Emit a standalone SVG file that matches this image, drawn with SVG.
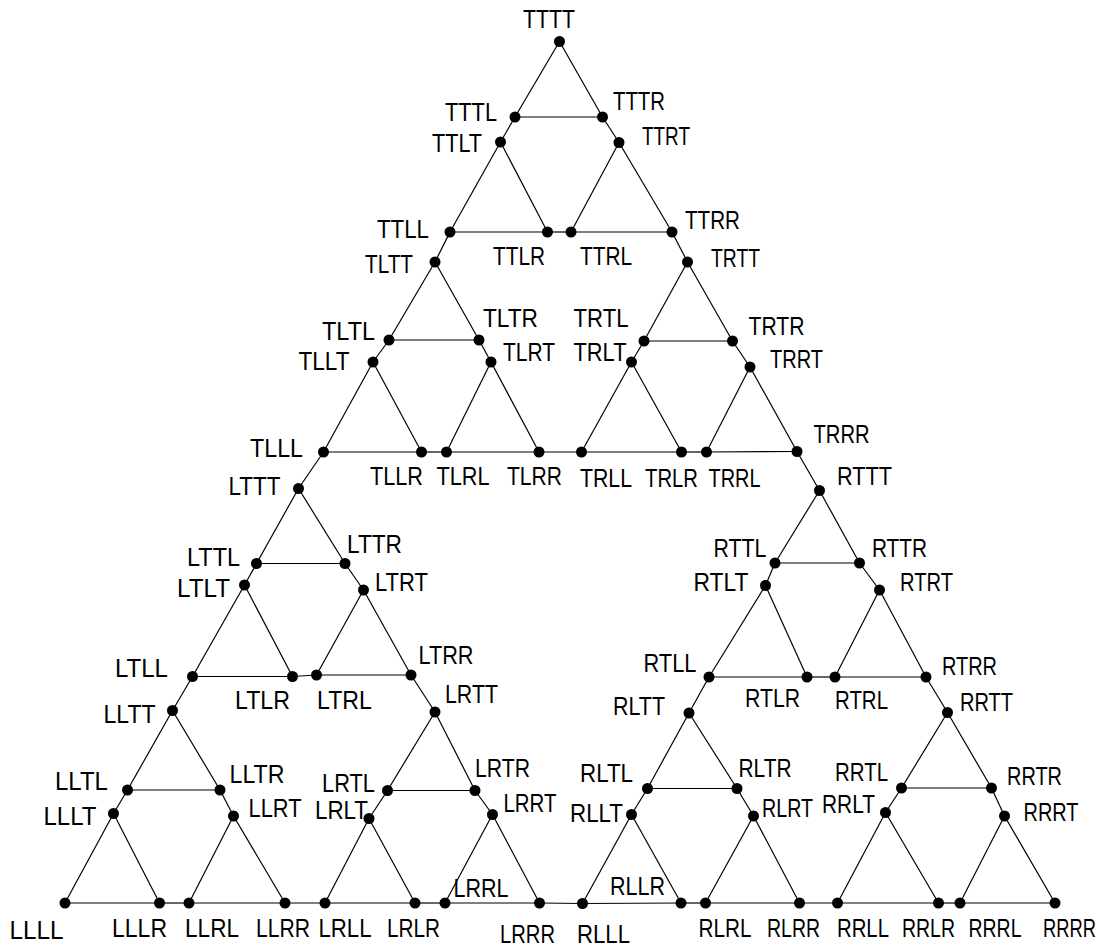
<svg xmlns="http://www.w3.org/2000/svg" width="1106" height="948" viewBox="0 0 1106 948">
<style>
.e line{stroke:#000;stroke-width:1.2}
.n circle{fill:#000}
.n text{font-family:"Liberation Sans",Arial,sans-serif;font-size:25px;fill:#000}
</style>
<rect width="1106" height="948" fill="#fff"/>
<g class="e" id="connectors">
<line x1="559.5" y1="41.5" x2="515" y2="117"/><line x1="559.5" y1="41.5" x2="602.5" y2="117"/><line x1="515" y1="117" x2="602.5" y2="117"/>
<line x1="500.5" y1="142" x2="450" y2="232"/><line x1="500.5" y1="142" x2="547.5" y2="232"/><line x1="450" y1="232" x2="547.5" y2="232"/>
<line x1="619" y1="142.5" x2="571" y2="232"/><line x1="619" y1="142.5" x2="672" y2="232"/><line x1="571" y1="232" x2="672" y2="232"/>
<line x1="435" y1="262" x2="389" y2="340"/><line x1="435" y1="262" x2="479" y2="340"/><line x1="389" y1="340" x2="479" y2="340"/>
<line x1="373" y1="362" x2="323.5" y2="452"/><line x1="373" y1="362" x2="421.5" y2="452"/><line x1="323.5" y1="452" x2="421.5" y2="452"/>
<line x1="491" y1="362" x2="446.5" y2="452"/><line x1="491" y1="362" x2="539" y2="452"/><line x1="446.5" y1="452" x2="539" y2="452"/>
<line x1="687.5" y1="262" x2="644" y2="341"/><line x1="687.5" y1="262" x2="732.5" y2="341"/><line x1="644" y1="341" x2="732.5" y2="341"/>
<line x1="631.5" y1="362" x2="581.5" y2="452"/><line x1="631.5" y1="362" x2="681.5" y2="452"/><line x1="581.5" y1="452" x2="681.5" y2="452"/>
<line x1="750" y1="367" x2="706.5" y2="452"/><line x1="750" y1="367" x2="797" y2="451.5"/><line x1="706.5" y1="452" x2="797" y2="451.5"/>
<line x1="298.5" y1="488.5" x2="256.5" y2="563.5"/><line x1="298.5" y1="488.5" x2="345" y2="563.5"/><line x1="256.5" y1="563.5" x2="345" y2="563.5"/>
<line x1="244.5" y1="585" x2="192.5" y2="676.5"/><line x1="244.5" y1="585" x2="292.5" y2="676.5"/><line x1="192.5" y1="676.5" x2="292.5" y2="676.5"/>
<line x1="363.5" y1="590" x2="316.5" y2="675"/><line x1="363.5" y1="590" x2="411" y2="675"/><line x1="316.5" y1="675" x2="411" y2="675"/>
<line x1="172.5" y1="710.5" x2="127.5" y2="790"/><line x1="172.5" y1="710.5" x2="220" y2="790"/><line x1="127.5" y1="790" x2="220" y2="790"/>
<line x1="113.5" y1="813.5" x2="65" y2="903"/><line x1="113.5" y1="813.5" x2="159.5" y2="903"/><line x1="65" y1="903" x2="159.5" y2="903"/>
<line x1="233.5" y1="816" x2="189" y2="903"/><line x1="233.5" y1="816" x2="285" y2="903"/><line x1="189" y1="903" x2="285" y2="903"/>
<line x1="435" y1="712" x2="387.5" y2="790.5"/><line x1="435" y1="712" x2="475" y2="790.5"/><line x1="387.5" y1="790.5" x2="475" y2="790.5"/>
<line x1="369" y1="818.5" x2="325" y2="903"/><line x1="369" y1="818.5" x2="415" y2="903"/><line x1="325" y1="903" x2="415" y2="903"/>
<line x1="492.5" y1="814.5" x2="445" y2="903"/><line x1="492.5" y1="814.5" x2="539.5" y2="903"/><line x1="445" y1="903" x2="539.5" y2="903"/>
<line x1="819.5" y1="490.5" x2="775" y2="563"/><line x1="819.5" y1="490.5" x2="859.5" y2="563"/><line x1="775" y1="563" x2="859.5" y2="563"/>
<line x1="765.5" y1="585.5" x2="709" y2="677"/><line x1="765.5" y1="585.5" x2="807" y2="677"/><line x1="709" y1="677" x2="807" y2="677"/>
<line x1="879.5" y1="590" x2="835" y2="677"/><line x1="879.5" y1="590" x2="926" y2="677"/><line x1="835" y1="677" x2="926" y2="677"/>
<line x1="689" y1="713" x2="647.5" y2="788.5"/><line x1="689" y1="713" x2="737" y2="788.5"/><line x1="647.5" y1="788.5" x2="737" y2="788.5"/>
<line x1="631.5" y1="814.5" x2="582.5" y2="903.5"/><line x1="631.5" y1="814.5" x2="681" y2="903"/><line x1="582.5" y1="903.5" x2="681" y2="903"/>
<line x1="753.5" y1="816" x2="705.5" y2="903"/><line x1="753.5" y1="816" x2="799.5" y2="903"/><line x1="705.5" y1="903" x2="799.5" y2="903"/>
<line x1="947.5" y1="712.5" x2="901.5" y2="788"/><line x1="947.5" y1="712.5" x2="991.5" y2="788"/><line x1="901.5" y1="788" x2="991.5" y2="788"/>
<line x1="885.5" y1="812.5" x2="837.5" y2="903"/><line x1="885.5" y1="812.5" x2="938.5" y2="903"/><line x1="837.5" y1="903" x2="938.5" y2="903"/>
<line x1="1004.5" y1="816" x2="960" y2="903"/><line x1="1004.5" y1="816" x2="1055" y2="903"/><line x1="960" y1="903" x2="1055" y2="903"/>
<line x1="515" y1="117" x2="500.5" y2="142"/><line x1="602.5" y1="117" x2="619" y2="142.5"/><line x1="547.5" y1="232" x2="571" y2="232"/>
<line x1="389" y1="340" x2="373" y2="362"/><line x1="479" y1="340" x2="491" y2="362"/><line x1="421.5" y1="452" x2="446.5" y2="452"/>
<line x1="644" y1="341" x2="631.5" y2="362"/><line x1="732.5" y1="341" x2="750" y2="367"/><line x1="681.5" y1="452" x2="706.5" y2="452"/>
<line x1="256.5" y1="563.5" x2="244.5" y2="585"/><line x1="345" y1="563.5" x2="363.5" y2="590"/><line x1="292.5" y1="676.5" x2="316.5" y2="675"/>
<line x1="127.5" y1="790" x2="113.5" y2="813.5"/><line x1="220" y1="790" x2="233.5" y2="816"/><line x1="159.5" y1="903" x2="189" y2="903"/>
<line x1="387.5" y1="790.5" x2="369" y2="818.5"/><line x1="475" y1="790.5" x2="492.5" y2="814.5"/><line x1="415" y1="903" x2="445" y2="903"/>
<line x1="775" y1="563" x2="765.5" y2="585.5"/><line x1="859.5" y1="563" x2="879.5" y2="590"/><line x1="807" y1="677" x2="835" y2="677"/>
<line x1="647.5" y1="788.5" x2="631.5" y2="814.5"/><line x1="737" y1="788.5" x2="753.5" y2="816"/><line x1="681" y1="903" x2="705.5" y2="903"/>
<line x1="901.5" y1="788" x2="885.5" y2="812.5"/><line x1="991.5" y1="788" x2="1004.5" y2="816"/><line x1="938.5" y1="903" x2="960" y2="903"/>
<line x1="450" y1="232" x2="435" y2="262"/><line x1="672" y1="232" x2="687.5" y2="262"/><line x1="539" y1="452" x2="581.5" y2="452"/>
<line x1="192.5" y1="676.5" x2="172.5" y2="710.5"/><line x1="411" y1="675" x2="435" y2="712"/><line x1="285" y1="903" x2="325" y2="903"/>
<line x1="709" y1="677" x2="689" y2="713"/><line x1="926" y1="677" x2="947.5" y2="712.5"/><line x1="799.5" y1="903" x2="837.5" y2="903"/>
<line x1="323.5" y1="452" x2="298.5" y2="488.5"/><line x1="797" y1="451.5" x2="819.5" y2="490.5"/><line x1="539.5" y1="903" x2="582.5" y2="903.5"/>
</g>
<g class="n" id="TTTT"><circle cx="559.5" cy="41.5" r="5.5"/><text x="523" y="28" textLength="52" lengthAdjust="spacingAndGlyphs">TTTT</text></g>
<g class="n" id="TTTL"><circle cx="515" cy="117" r="5.5"/><text x="445" y="121" textLength="52" lengthAdjust="spacingAndGlyphs">TTTL</text></g>
<g class="n" id="TTTR"><circle cx="602.5" cy="117" r="5.5"/><text x="613" y="110" textLength="52" lengthAdjust="spacingAndGlyphs">TTTR</text></g>
<g class="n" id="TTLT"><circle cx="500.5" cy="142" r="5.5"/><text x="432" y="151.5" textLength="50" lengthAdjust="spacingAndGlyphs">TTLT</text></g>
<g class="n" id="TTRT"><circle cx="619" cy="142.5" r="5.5"/><text x="642" y="145" textLength="48" lengthAdjust="spacingAndGlyphs">TTRT</text></g>
<g class="n" id="TTLL"><circle cx="450" cy="232" r="5.5"/><text x="377" y="238" textLength="52" lengthAdjust="spacingAndGlyphs">TTLL</text></g>
<g class="n" id="TTLR"><circle cx="547.5" cy="232" r="5.5"/><text x="493" y="265" textLength="52" lengthAdjust="spacingAndGlyphs">TTLR</text></g>
<g class="n" id="TTRL"><circle cx="571" cy="232" r="5.5"/><text x="580" y="265" textLength="52" lengthAdjust="spacingAndGlyphs">TTRL</text></g>
<g class="n" id="TTRR"><circle cx="672" cy="232" r="5.5"/><text x="685" y="229" textLength="55" lengthAdjust="spacingAndGlyphs">TTRR</text></g>
<g class="n" id="TLTT"><circle cx="435" cy="262" r="5.5"/><text x="365" y="272.5" textLength="48" lengthAdjust="spacingAndGlyphs">TLTT</text></g>
<g class="n" id="TLTL"><circle cx="389" cy="340" r="5.5"/><text x="322" y="340" textLength="53" lengthAdjust="spacingAndGlyphs">TLTL</text></g>
<g class="n" id="TLTR"><circle cx="479" cy="340" r="5.5"/><text x="483" y="327" textLength="55" lengthAdjust="spacingAndGlyphs">TLTR</text></g>
<g class="n" id="TLLT"><circle cx="373" cy="362" r="5.5"/><text x="298.5" y="370" textLength="51" lengthAdjust="spacingAndGlyphs">TLLT</text></g>
<g class="n" id="TLRT"><circle cx="491" cy="362" r="5.5"/><text x="503" y="361" textLength="52" lengthAdjust="spacingAndGlyphs">TLRT</text></g>
<g class="n" id="TLLL"><circle cx="323.5" cy="452" r="5.5"/><text x="250" y="456.5" textLength="53" lengthAdjust="spacingAndGlyphs">TLLL</text></g>
<g class="n" id="TLLR"><circle cx="421.5" cy="452" r="5.5"/><text x="370" y="485" textLength="53" lengthAdjust="spacingAndGlyphs">TLLR</text></g>
<g class="n" id="TLRL"><circle cx="446.5" cy="452" r="5.5"/><text x="436.5" y="485" textLength="53" lengthAdjust="spacingAndGlyphs">TLRL</text></g>
<g class="n" id="TLRR"><circle cx="539" cy="452" r="5.5"/><text x="507" y="485" textLength="55" lengthAdjust="spacingAndGlyphs">TLRR</text></g>
<g class="n" id="TRTT"><circle cx="687.5" cy="262" r="5.5"/><text x="711" y="266.5" textLength="49" lengthAdjust="spacingAndGlyphs">TRTT</text></g>
<g class="n" id="TRTL"><circle cx="644" cy="341" r="5.5"/><text x="573.5" y="327" textLength="55" lengthAdjust="spacingAndGlyphs">TRTL</text></g>
<g class="n" id="TRTR"><circle cx="732.5" cy="341" r="5.5"/><text x="748.5" y="335" textLength="56" lengthAdjust="spacingAndGlyphs">TRTR</text></g>
<g class="n" id="TRLT"><circle cx="631.5" cy="362" r="5.5"/><text x="573.5" y="360.5" textLength="53" lengthAdjust="spacingAndGlyphs">TRLT</text></g>
<g class="n" id="TRRT"><circle cx="750" cy="367" r="5.5"/><text x="770" y="368" textLength="53" lengthAdjust="spacingAndGlyphs">TRRT</text></g>
<g class="n" id="TRLL"><circle cx="581.5" cy="452" r="5.5"/><text x="580" y="486.5" textLength="52" lengthAdjust="spacingAndGlyphs">TRLL</text></g>
<g class="n" id="TRLR"><circle cx="681.5" cy="452" r="5.5"/><text x="645" y="486.5" textLength="53" lengthAdjust="spacingAndGlyphs">TRLR</text></g>
<g class="n" id="TRRL"><circle cx="706.5" cy="452" r="5.5"/><text x="708.5" y="486.5" textLength="52" lengthAdjust="spacingAndGlyphs">TRRL</text></g>
<g class="n" id="TRRR"><circle cx="797" cy="451.5" r="5.5"/><text x="813.5" y="443" textLength="56" lengthAdjust="spacingAndGlyphs">TRRR</text></g>
<g class="n" id="LTTT"><circle cx="298.5" cy="488.5" r="5.5"/><text x="228.5" y="495" textLength="52" lengthAdjust="spacingAndGlyphs">LTTT</text></g>
<g class="n" id="LTTL"><circle cx="256.5" cy="563.5" r="5.5"/><text x="187" y="566" textLength="53" lengthAdjust="spacingAndGlyphs">LTTL</text></g>
<g class="n" id="LTTR"><circle cx="345" cy="563.5" r="5.5"/><text x="347" y="553" textLength="55" lengthAdjust="spacingAndGlyphs">LTTR</text></g>
<g class="n" id="LTLT"><circle cx="244.5" cy="585" r="5.5"/><text x="177" y="596.5" textLength="53" lengthAdjust="spacingAndGlyphs">LTLT</text></g>
<g class="n" id="LTRT"><circle cx="363.5" cy="590" r="5.5"/><text x="375" y="590.5" textLength="53" lengthAdjust="spacingAndGlyphs">LTRT</text></g>
<g class="n" id="LTLL"><circle cx="192.5" cy="676.5" r="5.5"/><text x="115" y="677" textLength="53" lengthAdjust="spacingAndGlyphs">LTLL</text></g>
<g class="n" id="LTLR"><circle cx="292.5" cy="676.5" r="5.5"/><text x="235" y="709" textLength="55" lengthAdjust="spacingAndGlyphs">LTLR</text></g>
<g class="n" id="LTRL"><circle cx="316.5" cy="675" r="5.5"/><text x="317" y="709" textLength="55" lengthAdjust="spacingAndGlyphs">LTRL</text></g>
<g class="n" id="LTRR"><circle cx="411" cy="675" r="5.5"/><text x="418.5" y="664" textLength="55" lengthAdjust="spacingAndGlyphs">LTRR</text></g>
<g class="n" id="LLTT"><circle cx="172.5" cy="710.5" r="5.5"/><text x="103.5" y="723" textLength="52" lengthAdjust="spacingAndGlyphs">LLTT</text></g>
<g class="n" id="LLTL"><circle cx="127.5" cy="790" r="5.5"/><text x="55" y="790" textLength="53" lengthAdjust="spacingAndGlyphs">LLTL</text></g>
<g class="n" id="LLTR"><circle cx="220" cy="790" r="5.5"/><text x="229.5" y="783" textLength="55" lengthAdjust="spacingAndGlyphs">LLTR</text></g>
<g class="n" id="LLLT"><circle cx="113.5" cy="813.5" r="5.5"/><text x="43.5" y="825" textLength="53" lengthAdjust="spacingAndGlyphs">LLLT</text></g>
<g class="n" id="LLRT"><circle cx="233.5" cy="816" r="5.5"/><text x="248.5" y="817" textLength="53" lengthAdjust="spacingAndGlyphs">LLRT</text></g>
<g class="n" id="LLLL"><circle cx="65" cy="903" r="5.5"/><text x="9.5" y="939" textLength="54" lengthAdjust="spacingAndGlyphs">LLLL</text></g>
<g class="n" id="LLLR"><circle cx="159.5" cy="903" r="5.5"/><text x="112" y="936.5" textLength="55" lengthAdjust="spacingAndGlyphs">LLLR</text></g>
<g class="n" id="LLRL"><circle cx="189" cy="903" r="5.5"/><text x="185" y="936.5" textLength="54" lengthAdjust="spacingAndGlyphs">LLRL</text></g>
<g class="n" id="LLRR"><circle cx="285" cy="903" r="5.5"/><text x="256" y="936.5" textLength="54" lengthAdjust="spacingAndGlyphs">LLRR</text></g>
<g class="n" id="LRTT"><circle cx="435" cy="712" r="5.5"/><text x="445" y="703" textLength="53" lengthAdjust="spacingAndGlyphs">LRTT</text></g>
<g class="n" id="LRTL"><circle cx="387.5" cy="790.5" r="5.5"/><text x="322" y="791.5" textLength="53" lengthAdjust="spacingAndGlyphs">LRTL</text></g>
<g class="n" id="LRTR"><circle cx="475" cy="790.5" r="5.5"/><text x="475" y="777" textLength="55" lengthAdjust="spacingAndGlyphs">LRTR</text></g>
<g class="n" id="LRLT"><circle cx="369" cy="818.5" r="5.5"/><text x="315" y="819" textLength="53" lengthAdjust="spacingAndGlyphs">LRLT</text></g>
<g class="n" id="LRRT"><circle cx="492.5" cy="814.5" r="5.5"/><text x="503.5" y="811.5" textLength="53" lengthAdjust="spacingAndGlyphs">LRRT</text></g>
<g class="n" id="LRLL"><circle cx="325" cy="903" r="5.5"/><text x="318.5" y="936.5" textLength="53" lengthAdjust="spacingAndGlyphs">LRLL</text></g>
<g class="n" id="LRLR"><circle cx="415" cy="903" r="5.5"/><text x="387" y="936.5" textLength="53" lengthAdjust="spacingAndGlyphs">LRLR</text></g>
<g class="n" id="LRRL"><circle cx="445" cy="903" r="5.5"/><text x="453.5" y="896.5" textLength="55" lengthAdjust="spacingAndGlyphs">LRRL</text></g>
<g class="n" id="LRRR"><circle cx="539.5" cy="903" r="5.5"/><text x="500" y="943" textLength="55" lengthAdjust="spacingAndGlyphs">LRRR</text></g>
<g class="n" id="RTTT"><circle cx="819.5" cy="490.5" r="5.5"/><text x="837" y="485" textLength="55" lengthAdjust="spacingAndGlyphs">RTTT</text></g>
<g class="n" id="RTTL"><circle cx="775" cy="563" r="5.5"/><text x="713.5" y="557" textLength="53" lengthAdjust="spacingAndGlyphs">RTTL</text></g>
<g class="n" id="RTTR"><circle cx="859.5" cy="563" r="5.5"/><text x="872" y="557" textLength="55" lengthAdjust="spacingAndGlyphs">RTTR</text></g>
<g class="n" id="RTLT"><circle cx="765.5" cy="585.5" r="5.5"/><text x="693.5" y="590.5" textLength="55" lengthAdjust="spacingAndGlyphs">RTLT</text></g>
<g class="n" id="RTRT"><circle cx="879.5" cy="590" r="5.5"/><text x="900" y="590.5" textLength="53" lengthAdjust="spacingAndGlyphs">RTRT</text></g>
<g class="n" id="RTLL"><circle cx="709" cy="677" r="5.5"/><text x="643.5" y="671.5" textLength="53" lengthAdjust="spacingAndGlyphs">RTLL</text></g>
<g class="n" id="RTLR"><circle cx="807" cy="677" r="5.5"/><text x="745" y="706.5" textLength="55" lengthAdjust="spacingAndGlyphs">RTLR</text></g>
<g class="n" id="RTRL"><circle cx="835" cy="677" r="5.5"/><text x="835" y="709" textLength="53" lengthAdjust="spacingAndGlyphs">RTRL</text></g>
<g class="n" id="RTRR"><circle cx="926" cy="677" r="5.5"/><text x="942" y="675" textLength="55" lengthAdjust="spacingAndGlyphs">RTRR</text></g>
<g class="n" id="RLTT"><circle cx="689" cy="713" r="5.5"/><text x="613" y="715" textLength="52" lengthAdjust="spacingAndGlyphs">RLTT</text></g>
<g class="n" id="RLTL"><circle cx="647.5" cy="788.5" r="5.5"/><text x="580" y="781.5" textLength="53" lengthAdjust="spacingAndGlyphs">RLTL</text></g>
<g class="n" id="RLTR"><circle cx="737" cy="788.5" r="5.5"/><text x="738.5" y="777" textLength="53" lengthAdjust="spacingAndGlyphs">RLTR</text></g>
<g class="n" id="RLLT"><circle cx="631.5" cy="814.5" r="5.5"/><text x="570" y="821.5" textLength="53" lengthAdjust="spacingAndGlyphs">RLLT</text></g>
<g class="n" id="RLRT"><circle cx="753.5" cy="816" r="5.5"/><text x="762" y="817" textLength="51" lengthAdjust="spacingAndGlyphs">RLRT</text></g>
<g class="n" id="RLLL"><circle cx="582.5" cy="903.5" r="5.5"/><text x="577" y="943" textLength="53" lengthAdjust="spacingAndGlyphs">RLLL</text></g>
<g class="n" id="RLLR"><circle cx="681" cy="903" r="5.5"/><text x="610" y="895" textLength="55" lengthAdjust="spacingAndGlyphs">RLLR</text></g>
<g class="n" id="RLRL"><circle cx="705.5" cy="903" r="5.5"/><text x="698.5" y="936.5" textLength="53" lengthAdjust="spacingAndGlyphs">RLRL</text></g>
<g class="n" id="RLRR"><circle cx="799.5" cy="903" r="5.5"/><text x="767" y="936.5" textLength="53" lengthAdjust="spacingAndGlyphs">RLRR</text></g>
<g class="n" id="RRTT"><circle cx="947.5" cy="712.5" r="5.5"/><text x="960" y="710.5" textLength="53" lengthAdjust="spacingAndGlyphs">RRTT</text></g>
<g class="n" id="RRTL"><circle cx="901.5" cy="788" r="5.5"/><text x="835" y="780.5" textLength="53" lengthAdjust="spacingAndGlyphs">RRTL</text></g>
<g class="n" id="RRTR"><circle cx="991.5" cy="788" r="5.5"/><text x="1007" y="785" textLength="55" lengthAdjust="spacingAndGlyphs">RRTR</text></g>
<g class="n" id="RRLT"><circle cx="885.5" cy="812.5" r="5.5"/><text x="822" y="813" textLength="53" lengthAdjust="spacingAndGlyphs">RRLT</text></g>
<g class="n" id="RRRT"><circle cx="1004.5" cy="816" r="5.5"/><text x="1023.5" y="820.5" textLength="55" lengthAdjust="spacingAndGlyphs">RRRT</text></g>
<g class="n" id="RRLL"><circle cx="837.5" cy="903" r="5.5"/><text x="837" y="936.5" textLength="52" lengthAdjust="spacingAndGlyphs">RRLL</text></g>
<g class="n" id="RRLR"><circle cx="938.5" cy="903" r="5.5"/><text x="902" y="936.5" textLength="53" lengthAdjust="spacingAndGlyphs">RRLR</text></g>
<g class="n" id="RRRL"><circle cx="960" cy="903" r="5.5"/><text x="968.5" y="936.5" textLength="53" lengthAdjust="spacingAndGlyphs">RRRL</text></g>
<g class="n" id="RRRR"><circle cx="1055" cy="903" r="5.5"/><text x="1043" y="936.5" textLength="53" lengthAdjust="spacingAndGlyphs">RRRR</text></g>
</svg>
